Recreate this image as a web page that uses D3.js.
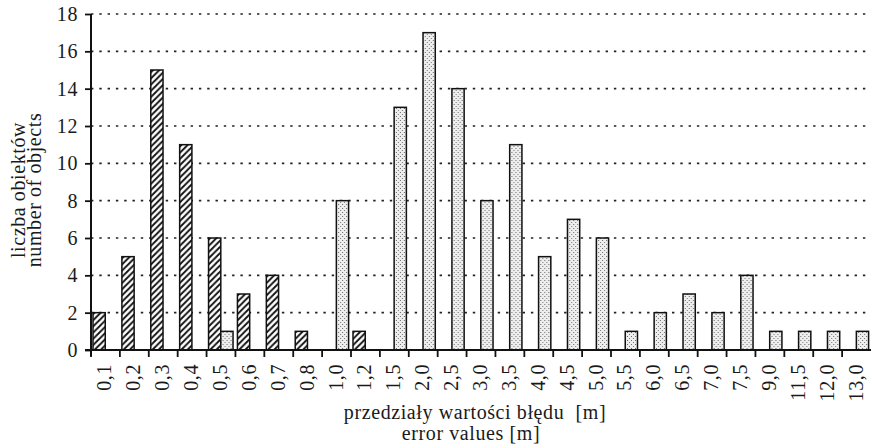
<!DOCTYPE html>
<html>
<head>
<meta charset="utf-8">
<script src="https://cdn.jsdelivr.net/npm/d3@7"></script>
<style>
  body { margin: 0; background: #fff; }
</style>
</head>
<body>
<svg class="chart"></svg>
<script>
// categories (error intervals) and the two series
var categories = ["0,1","0,2","0,3","0,4","0,5","0,6","0,7","0,8","1,0","1,2","1,5","2,0","2,5","3,0",
                  "3,5","4,0","4,5","5,0","5,5","6,0","6,5","7,0","7,5","9,0","11,5","12,0","13,0"];
var hatched = [2,5,15,11,6,3,4,1,0,1,0,0,0,0,0,0,0,0,0,0,0,0,0,0,0,0,0];
var dotted  = [0,0,0,0,1,0,0,0,8,0,13,17,14,8,11,5,7,6,1,2,3,2,4,1,1,1,1];
var yTicks = [0,2,4,6,8,10,12,14,16,18];

var width = 871, height = 446;
var margin = {top: 14, right: 0, bottom: 96, left: 91};
var FONT = "'Liberation Serif', 'Times New Roman', serif";

// all text in the same serif face
function serif(sel, size) {
  sel.style("font-family", FONT)
     .style("font-size", size + "px")
     .style("letter-spacing", "0.6px")
     .attr("fill", "#1a1a1a");
}

var svg = d3.select(".chart")
    .attr("width", width)
    .attr("height", height);

// patterns for the bar fills
var defs = svg.append("defs");
var hp = 6.2; // hatch period
var hatch = defs.append("pattern")
    .attr("id", "hatch")
    .attr("patternUnits", "userSpaceOnUse")
    .attr("width", hp).attr("height", hp);
hatch.append("rect").attr("width", hp).attr("height", hp).attr("fill", "#fff");
hatch.append("path")
    .attr("d", "M" + (-hp/4) + "," + (hp/4) + " L" + (hp/4) + "," + (-hp/4) +
               " M0," + hp + " L" + hp + ",0" +
               " M" + (hp*3/4) + "," + (hp*5/4) + " L" + (hp*5/4) + "," + (hp*3/4))
    .attr("stroke", "#111").attr("stroke-width", 1.9);

var dots = defs.append("pattern")
    .attr("id", "dots")
    .attr("patternUnits", "userSpaceOnUse")
    .attr("width", 4).attr("height", 4);
dots.append("rect").attr("width", 4).attr("height", 4).attr("fill", "#eeeeee");
dots.append("rect").attr("x", 0).attr("y", 0).attr("width", 1).attr("height", 1).attr("fill", "#666");
dots.append("rect").attr("x", 2).attr("y", 2).attr("width", 1).attr("height", 1).attr("fill", "#777");

var x = d3.scaleBand()
    .domain(categories)
    .range([margin.left, width - margin.right])
    .paddingInner(0).paddingOuter(0);

var x1 = d3.scaleBand()
    .domain(["h","d"])
    .range([2, x.bandwidth() - 2.4]);

var y = d3.scaleLinear()
    .domain([0, 18])
    .range([height - margin.bottom, margin.top]);

var baseY = y(0);

// dotted horizontal gridlines
svg.append("g").attr("class", "grid")
  .selectAll("line")
  .data(yTicks.filter(function(d){ return d > 0; }))
  .enter().append("line")
    .attr("x1", margin.left).attr("x2", width)
    .attr("y1", function(d){ return y(d); })
    .attr("y2", function(d){ return y(d); })
    .attr("stroke", "#222")
    .attr("stroke-width", 1.6)
    .attr("stroke-dasharray", "2.4,5.9");

// bars, hatched series on the left of each band, dotted on the right
var rows = categories.map(function(c, i){ return {cat: c, h: hatched[i], d: dotted[i]}; });

var band = svg.append("g").selectAll("g")
    .data(rows)
  .enter().append("g")
    .attr("transform", function(d){ return "translate(" + x(d.cat) + ",0)"; });

band.selectAll("rect")
    .data(function(d){
      return [{k: "h", v: d.h}, {k: "d", v: d.d}].filter(function(e){ return e.v > 0; });
    })
  .enter().append("rect")
    .attr("x", function(d){ return x1(d.k); })
    .attr("width", x1.bandwidth())
    .attr("y", function(d){ return y(d.v); })
    .attr("height", function(d){ return baseY - y(d.v); })
    .attr("fill", function(d){ return d.k === "h" ? "url(#hatch)" : "url(#dots)"; })
    .attr("stroke", "#111")
    .attr("stroke-width", 1.5);

// y axis
var yAxis = svg.append("g")
    .attr("transform", "translate(" + margin.left + ",0)")
    .call(d3.axisLeft(y).tickValues(yTicks).tickSize(6).tickPadding(7).tickFormat(d3.format("d")));
yAxis.select(".domain").attr("stroke", "#111").attr("stroke-width", 2)
    .attr("d", "M0," + y(18) + "V" + (baseY + 6));
yAxis.selectAll(".tick line").attr("stroke", "#111").attr("stroke-width", 1.8);
serif(yAxis.selectAll(".tick text"), 20);

// x axis: ticks at band boundaries
var xg = svg.append("g");
xg.append("line")
    .attr("x1", margin.left - 6).attr("x2", width)
    .attr("y1", baseY).attr("y2", baseY)
    .attr("stroke", "#111").attr("stroke-width", 2);
xg.selectAll(".bt")
    .data(categories)
  .enter().append("line")
    .attr("class", "bt")
    .attr("x1", function(d){ return x(d); })
    .attr("x2", function(d){ return x(d); })
    .attr("y1", baseY).attr("y2", baseY + 7)
    .attr("stroke", "#111").attr("stroke-width", 1.8);
var xl = xg.selectAll(".xl")
    .data(categories)
  .enter().append("text")
    .attr("class", "xl")
    .attr("transform", function(d){
      return "translate(" + (x(d) + x.bandwidth() / 2 - 1) + "," + (baseY + 14) + ") rotate(-90)";
    })
    .attr("text-anchor", "end")
    .attr("dy", "0.35em")
    .text(function(d){ return d; });
serif(xl, 20);

// axis titles
var t1 = svg.append("text")
    .attr("x", 475).attr("y", 419)
    .attr("text-anchor", "middle")
    .style("white-space", "pre")
    .text("przedziały wartości błędu  [m]");
var t2 = svg.append("text")
    .attr("x", 471).attr("y", 440)
    .attr("text-anchor", "middle")
    .text("error values [m]");
var t3 = svg.append("text")
    .attr("transform", "translate(25,190) rotate(-90)")
    .attr("text-anchor", "middle")
    .text("liczba obiektów");
var t4 = svg.append("text")
    .attr("transform", "translate(41,190) rotate(-90)")
    .attr("text-anchor", "middle")
    .text("number of objects");
[t1, t2, t3, t4].forEach(function(t){ serif(t, 20); });
</script>
</body>
</html>
